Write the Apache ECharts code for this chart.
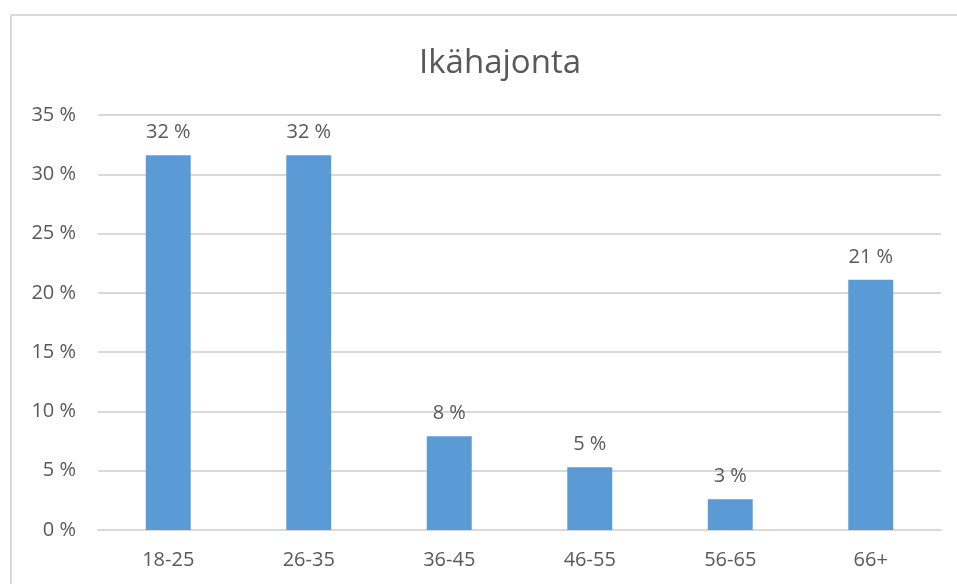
<!DOCTYPE html>
<html>
<head>
<meta charset="utf-8">
<script src="https://cdn.jsdelivr.net/npm/echarts@6/dist/echarts.min.js"></script>
<style>html,body{margin:0;padding:0;background:#fff;}#c{width:957px;height:584px;}</style>
</head>
<body>
<div id="c"></div>
<script>
var titleText = 'Ikähajonta';
var categories = ['18-25', '26-35', '36-45', '46-55', '56-65', '66+'];
var values = [31.6, 31.6, 7.9, 5.3, 2.6, 21.1];
var yTicks = [0, 5, 10, 15, 20, 25, 30, 35];

var chart = echarts.init(document.getElementById('c'), null, {renderer: 'canvas'});
var font = 'Open Sans';
chart.setOption({
  animation: false,
  backgroundColor: '#ffffff',
  graphic: [{
    type: 'rect', silent: true,
    shape: {x: 11, y: 15, width: 960, height: 600},
    style: {fill: 'none', stroke: '#D9D9D9', lineWidth: 2}
  }],
  title: {
    text: titleText, left: 495, top: 42, textAlign: 'center',
    textStyle: {fontFamily: font, fontSize: 33, fontWeight: 'normal', color: '#595959'}
  },
  grid: {left: 98, right: 16, top: 115, bottom: 54},
  xAxis: {
    type: 'category', data: categories,
    axisLine: {show: true, lineStyle: {color: '#D9D9D9', width: 2}},
    axisTick: {show: false},
    axisLabel: {fontFamily: font, fontSize: 20, color: '#595959', margin: 20}
  },
  yAxis: {
    type: 'value', min: yTicks[0], max: yTicks[yTicks.length - 1], interval: 5,
    axisLine: {show: false}, axisTick: {show: false},
    splitLine: {lineStyle: {color: '#D9D9D9', width: 2}},
    axisLabel: {fontFamily: font, fontSize: 20, color: '#595959', margin: 22,
      formatter: function (v) { return v + ' %'; }}
  },
  series: [{
    type: 'bar', data: values, barWidth: '32%',
    itemStyle: {color: '#5B9BD5'},
    label: {show: true, position: 'top', distance: 13, fontFamily: font, fontSize: 20, color: '#595959',
      formatter: function (p) { return Math.round(p.value) + ' %'; }}
  }]
});
</script>
</body>
</html>
